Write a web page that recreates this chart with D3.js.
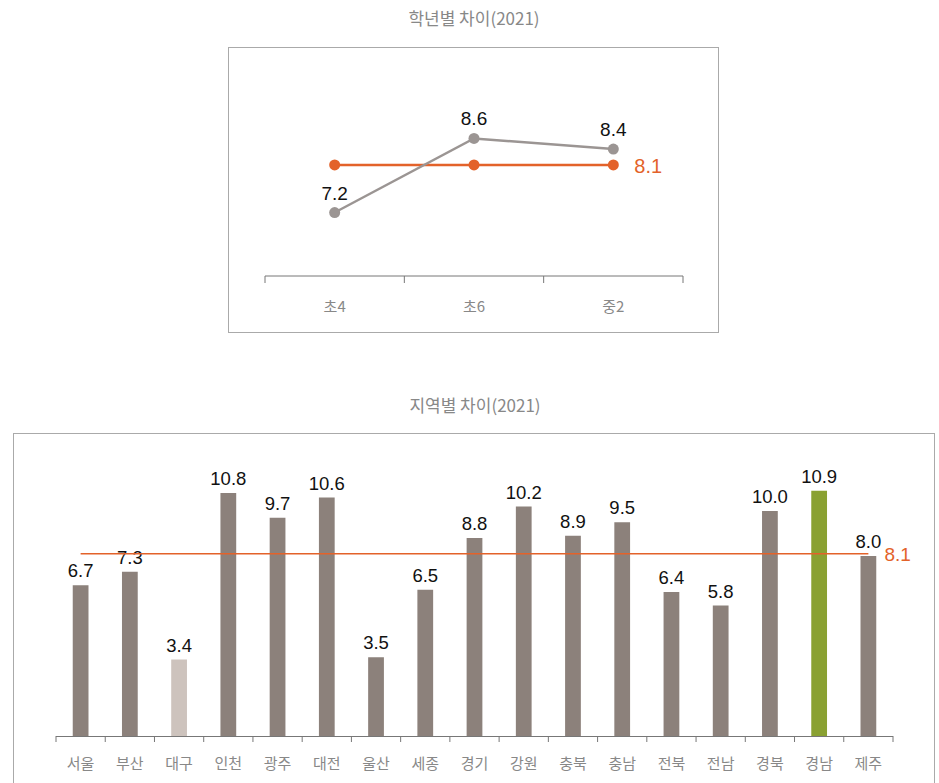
<!DOCTYPE html>
<meta charset="utf-8">
<style>
body { margin: 0; background: #fff; }
text { font-family: "Noto Sans CJK KR", "Noto Sans", sans-serif; }
.num { font-family: "Liberation Sans", Arial, sans-serif; }
</style>
<body>
<script src="https://d3js.org/d3.v7.min.js"></script>
<script>
// data
var gradeCats = ["초4", "초6", "중2"];
var gradeVals = [7.2, 8.6, 8.4];
var gradeAvg = 8.1;

var regionCats = ["서울", "부산", "대구", "인천", "광주", "대전", "울산", "세종", "경기",
                  "강원", "충북", "충남", "전북", "전남", "경북", "경남", "제주"];
var regionVals = [6.7, 7.3, 3.4, 10.8, 9.7, 10.6, 3.5, 6.5, 8.8, 10.2, 8.9, 9.5, 6.4, 5.8, 10.0, 10.9, 8.0];
var regionAvg = 8.1;

var gray = "#8c817b", lineGray = "#9b9593", orange = "#e3622a";

var svg = d3.select("body").append("svg")
    .attr("width", 939)
    .attr("height", 783);

// ---- top chart: by grade
svg.append("text")
   .attr("x", 474).attr("y", 25)
   .attr("text-anchor", "middle")
   .attr("font-size", "17px").attr("fill", "#888")
   .text("학년별 차이(2021)");

svg.append("rect")
   .attr("x", 228.5).attr("y", 47.5).attr("width", 490).attr("height", 285)
   .attr("fill", "none").attr("stroke", "#aaa");

var x1 = d3.scaleBand().domain(gradeCats).range([265, 683]);
var y1 = d3.scaleLinear().domain([6, 10]).range([276, 64.4]);

var ax1 = svg.append("g").attr("stroke", "#777");
ax1.append("line").attr("x1", 265).attr("x2", 683).attr("y1", 276).attr("y2", 276);
ax1.selectAll(".tk").data(d3.range(gradeCats.length + 1)).enter().append("line")
   .attr("x1", function(i) { return 265 + i * x1.step(); })
   .attr("x2", function(i) { return 265 + i * x1.step(); })
   .attr("y1", 276).attr("y2", 283);

svg.selectAll(".gl").data(gradeCats).enter().append("text")
   .attr("x", function(d) { return x1(d) + x1.bandwidth() / 2; })
   .attr("y", 312)
   .attr("text-anchor", "middle")
   .attr("font-size", "15px").attr("fill", "#888")
   .text(function(d) { return d; });

var cx1 = function(d, i) { return x1(gradeCats[i]) + x1.bandwidth() / 2; };

// average line
svg.append("path")
   .datum(gradeCats)
   .attr("fill", "none").attr("stroke", orange).attr("stroke-width", 2.5)
   .attr("d", d3.line().x(cx1).y(function() { return y1(gradeAvg); }));
svg.selectAll(".ad").data(gradeCats).enter().append("circle")
   .attr("cx", cx1).attr("cy", y1(gradeAvg)).attr("r", 5.5).attr("fill", orange);
svg.append("text").attr("class", "num")
   .attr("x", cx1(null, 2) + 21).attr("y", y1(gradeAvg)).attr("dy", "0.38em")
   .attr("font-size", "20px").attr("fill", orange)
   .text(gradeAvg.toFixed(1));

// grade line
svg.append("path")
   .datum(gradeVals)
   .attr("fill", "none").attr("stroke", lineGray).attr("stroke-width", 2.5)
   .attr("d", d3.line().x(cx1).y(function(d) { return y1(d); }));
svg.selectAll(".gd").data(gradeVals).enter().append("circle")
   .attr("cx", cx1).attr("cy", function(d) { return y1(d); }).attr("r", 5.5).attr("fill", lineGray);
svg.selectAll(".gv").data(gradeVals).enter().append("text").attr("class", "num")
   .attr("x", cx1).attr("y", function(d) { return y1(d) - 13; })
   .attr("text-anchor", "middle")
   .attr("font-size", "19px").attr("fill", "#111")
   .text(function(d) { return d.toFixed(1); });

// ---- bottom chart: by region
svg.append("text")
   .attr("x", 475).attr("y", 412)
   .attr("text-anchor", "middle")
   .attr("font-size", "17px").attr("fill", "#888")
   .text("지역별 차이(2021)");

svg.append("rect")
   .attr("x", 13.5).attr("y", 433.5).attr("width", 921).attr("height", 400)
   .attr("fill", "none").attr("stroke", "#aaa");

var x2 = d3.scaleBand().domain(regionCats).range([56, 893])
    .paddingInner(0.68).paddingOuter(0.34);
var y2 = d3.scaleLinear().domain([0, 10]).range([736, 511]);

svg.selectAll(".bar").data(regionVals).enter().append("rect")
   .attr("x", function(d, i) { return x2(regionCats[i]); })
   .attr("width", x2.bandwidth())
   .attr("y", function(d) { return y2(d); })
   .attr("height", function(d) { return y2(0) - y2(d); })
   .attr("fill", function(d, i) {
     if (regionCats[i] === "대구") return "#cdc3bd";
     if (regionCats[i] === "경남") return "#8aa132";
     return gray;
   });

var bx = function(i) { return x2(regionCats[i]) + x2.bandwidth() / 2; };

svg.selectAll(".bv").data(regionVals).enter().append("text").attr("class", "num")
   .attr("x", function(d, i) { return bx(i); })
   .attr("y", function(d) { return y2(d) - 8; })
   .attr("text-anchor", "middle")
   .attr("font-size", "18.5px").attr("fill", "#111")
   .text(function(d) { return d.toFixed(1); });

svg.append("line")
   .attr("x1", bx(0)).attr("x2", bx(regionCats.length - 1))
   .attr("y1", y2(regionAvg)).attr("y2", y2(regionAvg))
   .attr("stroke", orange).attr("stroke-width", 1.5);
svg.append("text").attr("class", "num")
   .attr("x", bx(regionCats.length - 1) + 16).attr("y", y2(regionAvg)).attr("dy", "0.4em")
   .attr("font-size", "19px").attr("fill", orange)
   .text(regionAvg.toFixed(1));

var ax2 = svg.append("g").attr("stroke", "#777");
ax2.append("line").attr("x1", 56).attr("x2", 893).attr("y1", 736.5).attr("y2", 736.5);
ax2.selectAll(".tk").data(d3.range(regionCats.length + 1)).enter().append("line")
   .attr("x1", function(i) { return 56 + i * x2.step(); })
   .attr("x2", function(i) { return 56 + i * x2.step(); })
   .attr("y1", 736).attr("y2", 742);

svg.selectAll(".rl").data(regionCats).enter().append("text")
   .attr("x", function(d, i) { return bx(i); })
   .attr("y", 769)
   .attr("text-anchor", "middle")
   .attr("font-size", "15px").attr("fill", "#888")
   .text(function(d) { return d; });
</script>
</body>
